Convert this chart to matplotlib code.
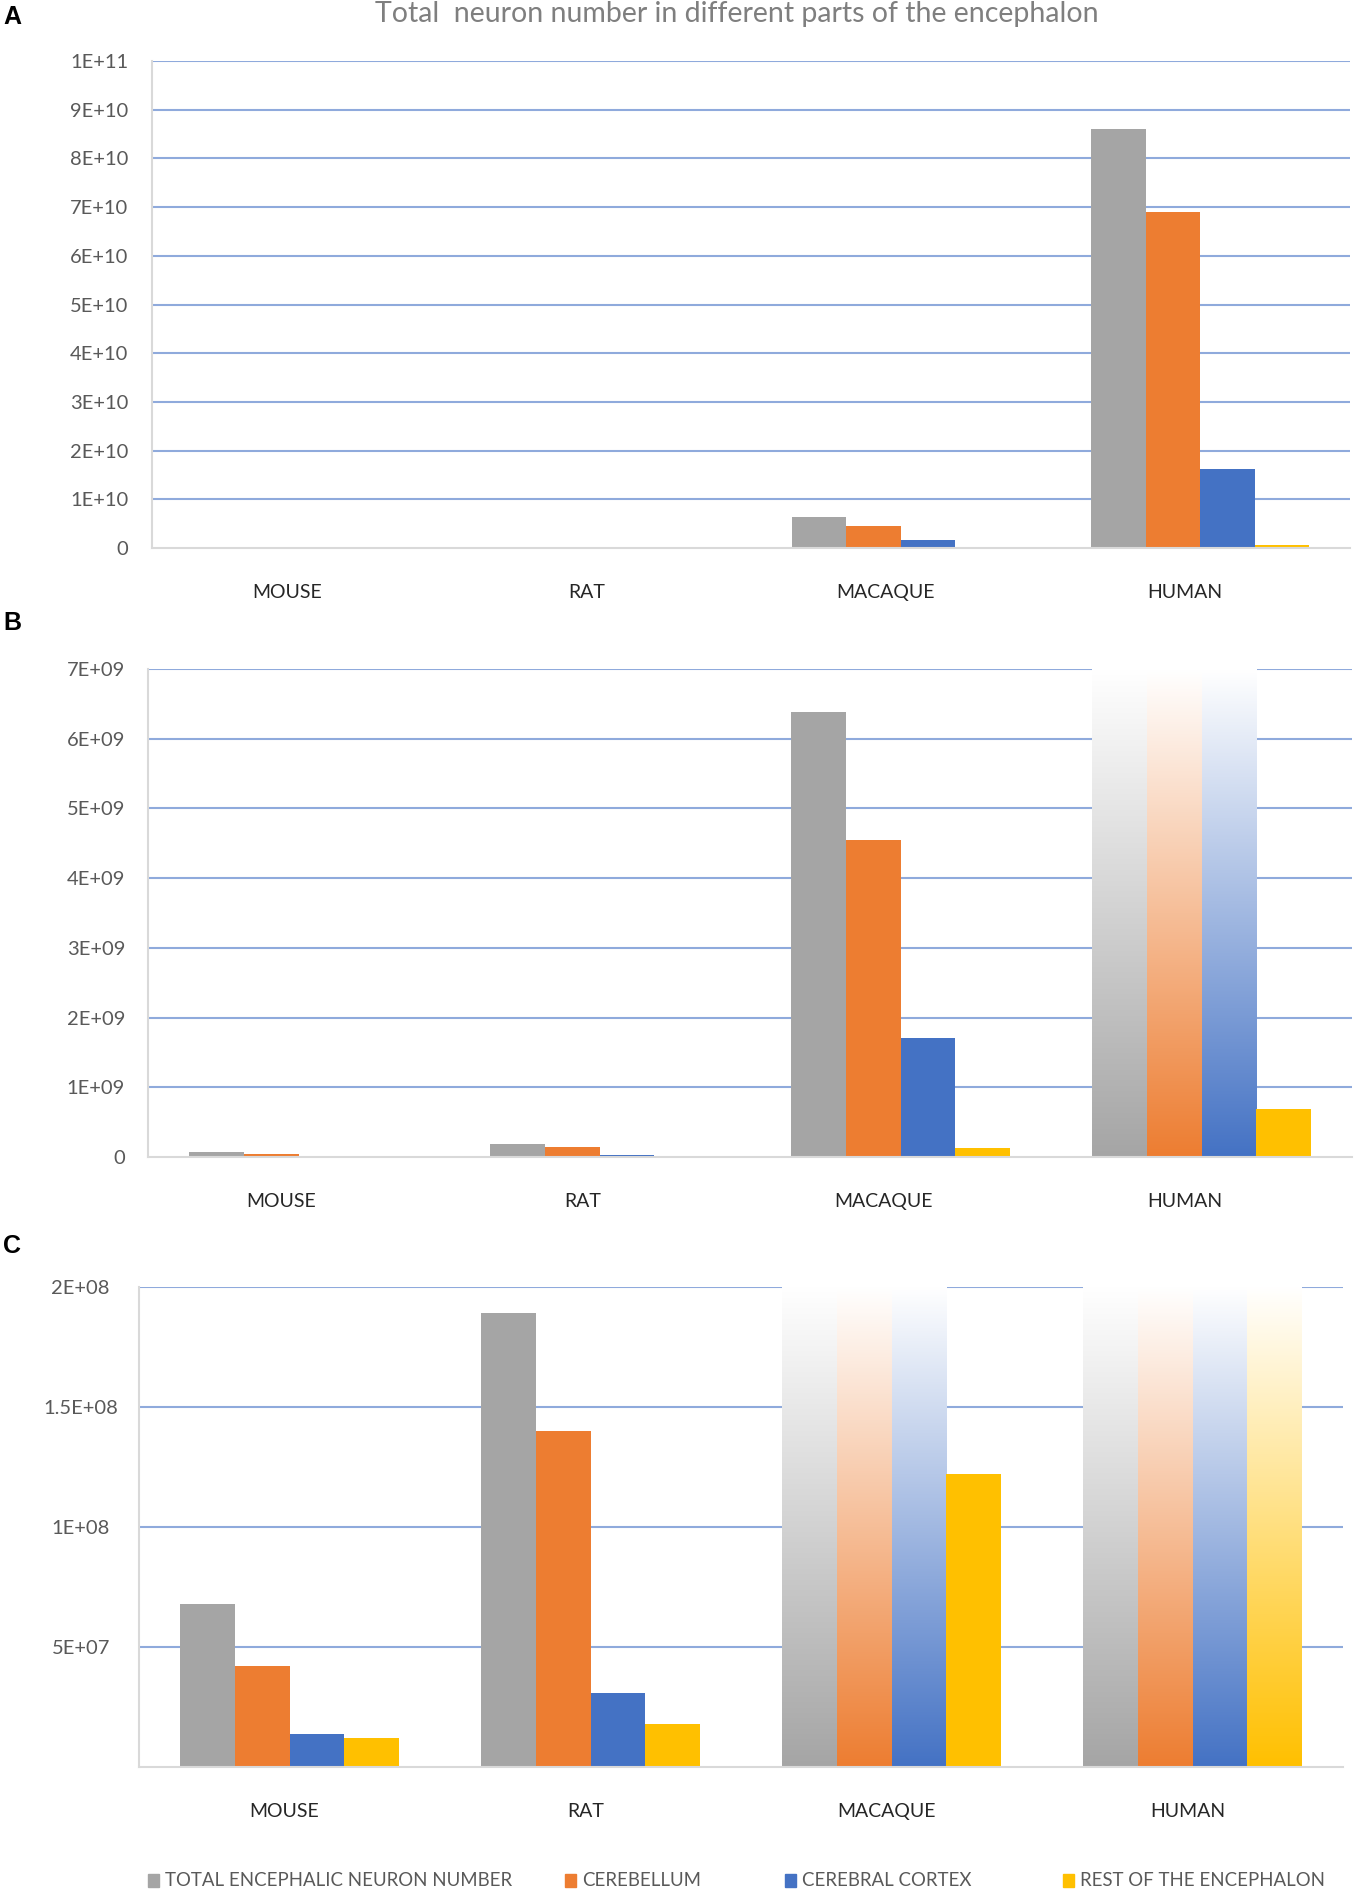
import numpy as np
import matplotlib
matplotlib.use('Agg')
import matplotlib.pyplot as plt
from matplotlib.transforms import ScaledTranslation
from matplotlib.patches import Rectangle

plt.rcParams['font.family'] = ['Lato', 'DejaVu Sans']

# Data (neuron counts)
species = ['MOUSE', 'RAT', 'MACAQUE', 'HUMAN']
series_names = ['TOTAL ENCEPHALIC NEURON NUMBER', 'CEREBELLUM',
                'CEREBRAL CORTEX', 'REST OF THE ENCEPHALON']
total = [6.79e7, 1.89e8, 6.38e9, 8.6e10]
cerebellum = [4.22e7, 1.40e8, 4.55e9, 6.9e10]
cortex = [1.37e7, 3.1e7, 1.71e9, 1.63e10]
rest = [1.2e7, 1.8e7, 1.22e8, 6.9e8]

# Tick values/labels for the three panels
ticks_a = [0, 1e10, 2e10, 3e10, 4e10, 5e10, 6e10, 7e10, 8e10, 9e10, 1e11]
labels_a = ['0', '1E+10', '2E+10', '3E+10', '4E+10', '5E+10', '6E+10',
            '7E+10', '8E+10', '9E+10', '1E+11']
ticks_b = [0, 1e9, 2e9, 3e9, 4e9, 5e9, 6e9, 7e9]
labels_b = ['0', '1E+09', '2E+09', '3E+09', '4E+09', '5E+09', '6E+09', '7E+09']
ticks_c = [5e7, 1e8, 1.5e8, 2e8]
labels_c = ['5E+07', '1E+08', '1.5E+08', '2E+08']

colors = ['#A5A5A5', '#ED7D31', '#4472C4', '#FFC000']
grid_color = '#8FAADC'
spine_color = '#D9D9D9'

W, H = 1358, 1891
fig = plt.figure(figsize=(W / 100, H / 100), dpi=100)


def px_axes(left, right, top, bottom):
    return fig.add_axes([left / W, 1 - bottom / H, (right - left) / W, (bottom - top) / H])


def draw_panel(ax, ymax, ticks, labels, ypad, xshift, centered=False):
    values = [total, cerebellum, cortex, rest]
    x = np.arange(len(species))
    bw = 0.182
    for j, vals in enumerate(values):
        xs = x + (j - 1.5) * bw
        for xi, v in zip(xs, vals):
            if v <= ymax:
                ax.bar(xi, v, width=bw, color=colors[j], zorder=3, linewidth=0)
            else:
                # clipped bar: fade from colour to white toward the top
                rgb = np.array(matplotlib.colors.to_rgb(colors[j]))
                t = np.linspace(1, 0, 256)[:, None]
                grad = t * rgb + (1 - t) * np.ones(3)
                ax.imshow(grad[:, None, :], extent=(xi - bw / 2, xi + bw / 2, 0, ymax),
                          origin='lower', aspect='auto', zorder=3, interpolation='bilinear')
    for tv in ticks:
        if tv > 0:
            ax.axhline(tv, color=grid_color, lw=1.5, zorder=1)
    ax.set_xlim(-0.5, len(species) - 0.5)
    ax.set_ylim(0, ymax)
    ax.set_yticks(ticks, labels)
    ax.set_xticks(x, species)
    for s in ['top', 'right']:
        ax.spines[s].set_visible(False)
    for s in ['left', 'bottom']:
        ax.spines[s].set_color(spine_color)
        ax.spines[s].set_linewidth(1.5)
        ax.spines[s].set_zorder(4)
    ax.tick_params(axis='y', length=0, pad=ypad, labelsize=14.5, labelcolor='#595959')
    ax.tick_params(axis='x', length=0, pad=26, labelsize=14, labelcolor='#262626')
    if centered:
        for lab in ax.get_yticklabels():
            lab.set_horizontalalignment('center')
    for lab in ax.get_xticklabels():
        lab.set_transform(lab.get_transform() + ScaledTranslation(xshift / 100, 0, fig.dpi_scale_trans))


ax_a = px_axes(152, 1350, 61, 548)
draw_panel(ax_a, 1e11, ticks_a, labels_a, 17, -15)
ax_b = px_axes(148, 1352, 669, 1157)
draw_panel(ax_b, 7e9, ticks_b, labels_b, 16.5, -17)
ax_c = px_axes(139, 1343, 1287, 1767)
draw_panel(ax_c, 2e8, ticks_c, labels_c, 42, -5, centered=True)

fig.text(737 / W, 1 - 14 / H, 'Total  neuron number in different parts of the encephalon',
         ha='center', va='center', fontsize=20.5, color='#7F7F7F')

for letter, yy in zip(['A', 'B', 'C'], [17, 623, 1246]):
    fig.text(3 / W, 1 - yy / H, letter, ha='left', va='center', fontsize=18,
             fontweight='bold', family='Liberation Sans', color='black')

# legend
leg_x = [148, 565, 785, 1063]
for xx, name, c in zip(leg_x, series_names, colors):
    fig.patches.append(Rectangle((xx / W, 1 - 1887 / H), 11 / W, 13 / H,
                                 transform=fig.transFigure, color=c))
    fig.text((xx + 17) / W, 1 - 1881 / H, name, ha='left', va='center',
             fontsize=13.4, color='#595959')

fig.savefig('out.png', dpi=100)
